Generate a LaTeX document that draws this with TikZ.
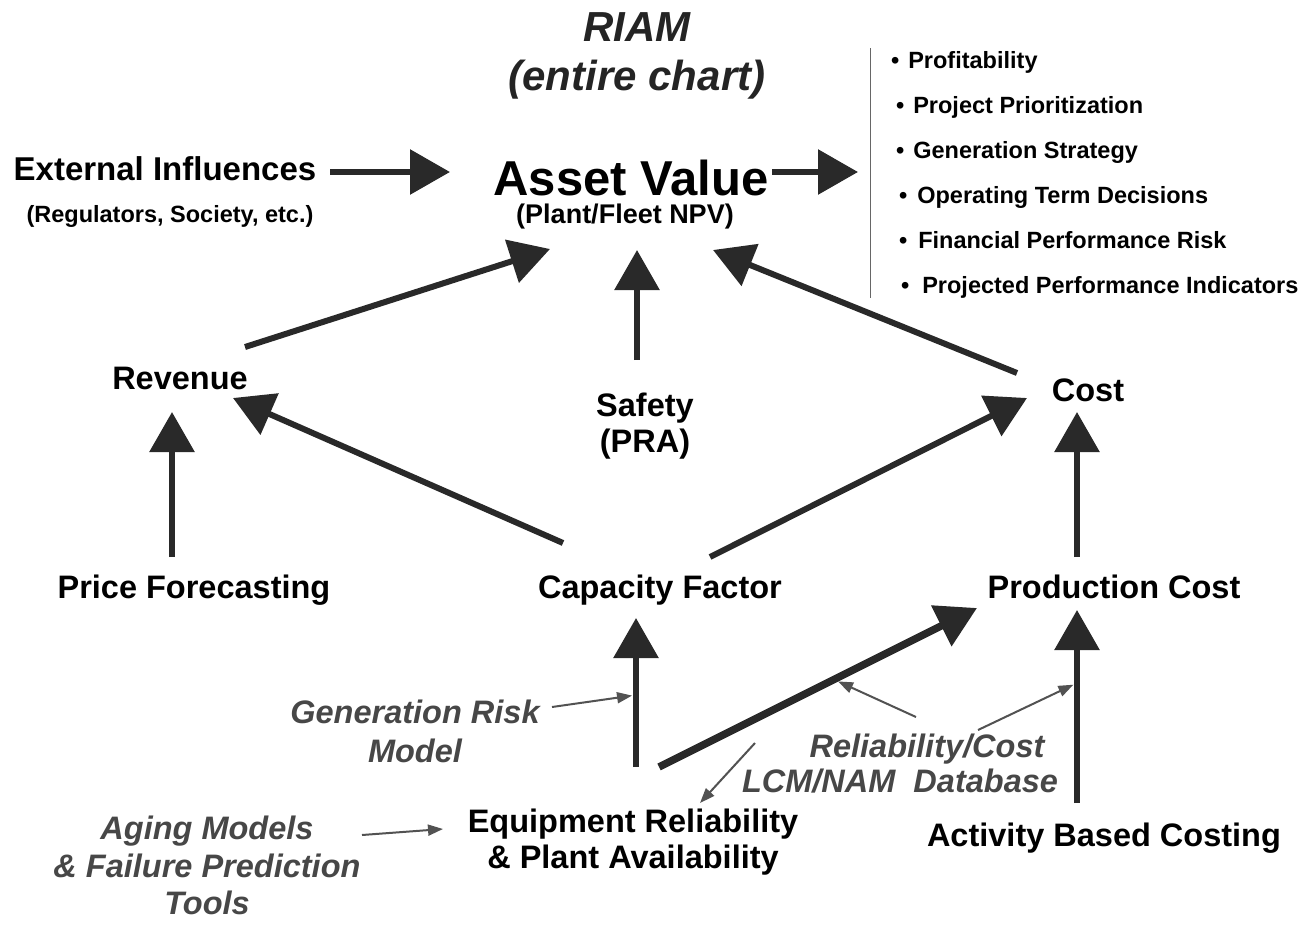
\documentclass[tikz,border=0pt]{standalone}
\usepackage{fontspec}
\setmainfont{Liberation Sans}
\usetikzlibrary{arrows.meta}
\tikzset{
  lbl/.style={font=\fontsize{32.5}{36}\selectfont\bfseries,inner sep=0pt,align=center},
  tool/.style={font=\fontsize{32.5}{37.5}\selectfont\bfseries\itshape,text=black!72,inner sep=0pt,align=center},
  sml/.style={font=\fontsize{23.5}{26}\selectfont\bfseries,inner sep=0pt},
  flow/.style={line width=6pt,draw=black!84,-{Triangle[length=40pt,width=44pt]}},
  hint/.style={line width=2pt,draw=black!68,-{Triangle[length=15pt,width=11pt]}},
}
\begin{document}
\begin{tikzpicture}[x=1pt,y=-1pt]
\useasboundingbox(0,0)rectangle(1306,927);
\draw(637,56)node[lbl,font=\fontsize{42}{49}\selectfont\bfseries\itshape,text=black!86](riam){RIAM\\(entire chart)};
\draw(165,180)node[lbl,font=\fontsize{33}{36}\selectfont\bfseries,anchor=base](ext){External Influences};
\draw(170,222)node[sml,anchor=base](reg){(Regulators, Society, etc.)};
\draw(631,195)node[lbl,font=\fontsize{49}{52}\selectfont\bfseries,anchor=base](asset){Asset Value};
\draw(625,223)node[lbl,font=\fontsize{27}{30}\selectfont\bfseries,anchor=base](npv){(Plant/Fleet NPV)};
\coordinate(outcomes)at(858,172);
\draw[line width=1pt,black!60](870,48)--(870,298);
\foreach \bx/\gap/\by/\txt [count=\i] in {891/8.9/68/Profitability,896/8.9/113/Project Prioritization,896/8.9/158/Generation Strategy,899/9.9/203/Operating Term Decisions,899/10.9/248/Financial Performance Risk,901/12.9/293/Projected Performance Indicators}
  {\draw(\bx,\by)node[sml,anchor=base west](out\i){•\hspace{\gap pt}\txt};}
\draw(180,389)node[lbl,anchor=base](revenue){Revenue};
\draw(1088,401)node[lbl,anchor=base](cost){Cost};
\draw(645,425.6)node[lbl](safety){Safety\\(PRA)};
\draw(194,598)node[lbl,anchor=base](price){Price Forecasting};
\draw(660,598)node[lbl,anchor=base](capacity){Capacity Factor};
\draw(1114,598)node[lbl,anchor=base](prodcost){Production Cost};
\draw(633,841.6)node[lbl](equip){Equipment Reliability\\\& Plant Availability};
\draw(1104,846)node[lbl,anchor=base](abc){Activity Based Costing};
\draw(415,731.7)node[tool,font=\fontsize{32.5}{39}\selectfont\bfseries\itshape](genrisk){Generation Risk\\Model};
\draw(927,757)node[tool,anchor=base](relcost){Reliability/Cost};
\draw(900,792)node[tool,anchor=base](lcmdb){LCM/NAM~~Database};
\draw(207,865.7)node[tool](aging){Aging Models\\\& Failure Prediction\\Tools};
\draw[flow]([shift={(165,-8)}]ext.base)--([shift={(-181,-23)}]asset.base);
\draw[flow]([shift={(141,-23)}]asset.base)--(outcomes);
\draw[flow]([shift={(65,-42)}]revenue.base)--([shift={(-81,54)}]asset.base);
\draw[flow]([shift={(-8,-65.6)}]safety.center)--([shift={(6,55)}]asset.base);
\draw[flow]([shift={(-71,-28)}]cost.base)--([shift={(82,55)}]asset.base);
\draw[flow]([shift={(-22,-41)}]price.base)--([shift={(-8,23)}]revenue.base);
\draw[flow]([shift={(-97,-55)}]capacity.base)--([shift={(53,9)}]revenue.base);
\draw[flow]([shift={(50,-41)}]capacity.base)--([shift={(-61,-3)}]cost.base);
\draw[flow]([shift={(-37,-41)}]prodcost.base)--([shift={(-11,11)}]cost.base);
\draw[flow]([shift={(3,-74.6)}]equip.center)--coordinate[pos=0.483](grhit)([shift={(-24,20)}]capacity.base);
\draw[flow,line width=7.5pt]([shift={(26,-74.6)}]equip.center)--coordinate[pos=0.55](relhit)([shift={(-137,10)}]prodcost.base);
\draw[flow]([shift={(-27,-43)}]abc.base)--coordinate[pos=0.622](abchit)([shift={(-37,12)}]prodcost.base);
\draw[hint,shorten >=4pt]([shift={(137,-24.7)}]genrisk.center)--(grhit);
\draw[hint,shorten >=4.5pt]([shift={(-11,-40)}]relcost.base)--(relhit);
\draw[hint,shorten >=4pt]([shift={(51,-27)}]relcost.base)--(abchit);
\draw[hint]([shift={(-145,-49)}]lcmdb.base)--([shift={(67,-38.6)}]equip.center);
\draw[hint]([shift={(155,-30.7)}]aging.center)--([shift={(-190,-12.6)}]equip.center);
\end{tikzpicture}
\end{document}
